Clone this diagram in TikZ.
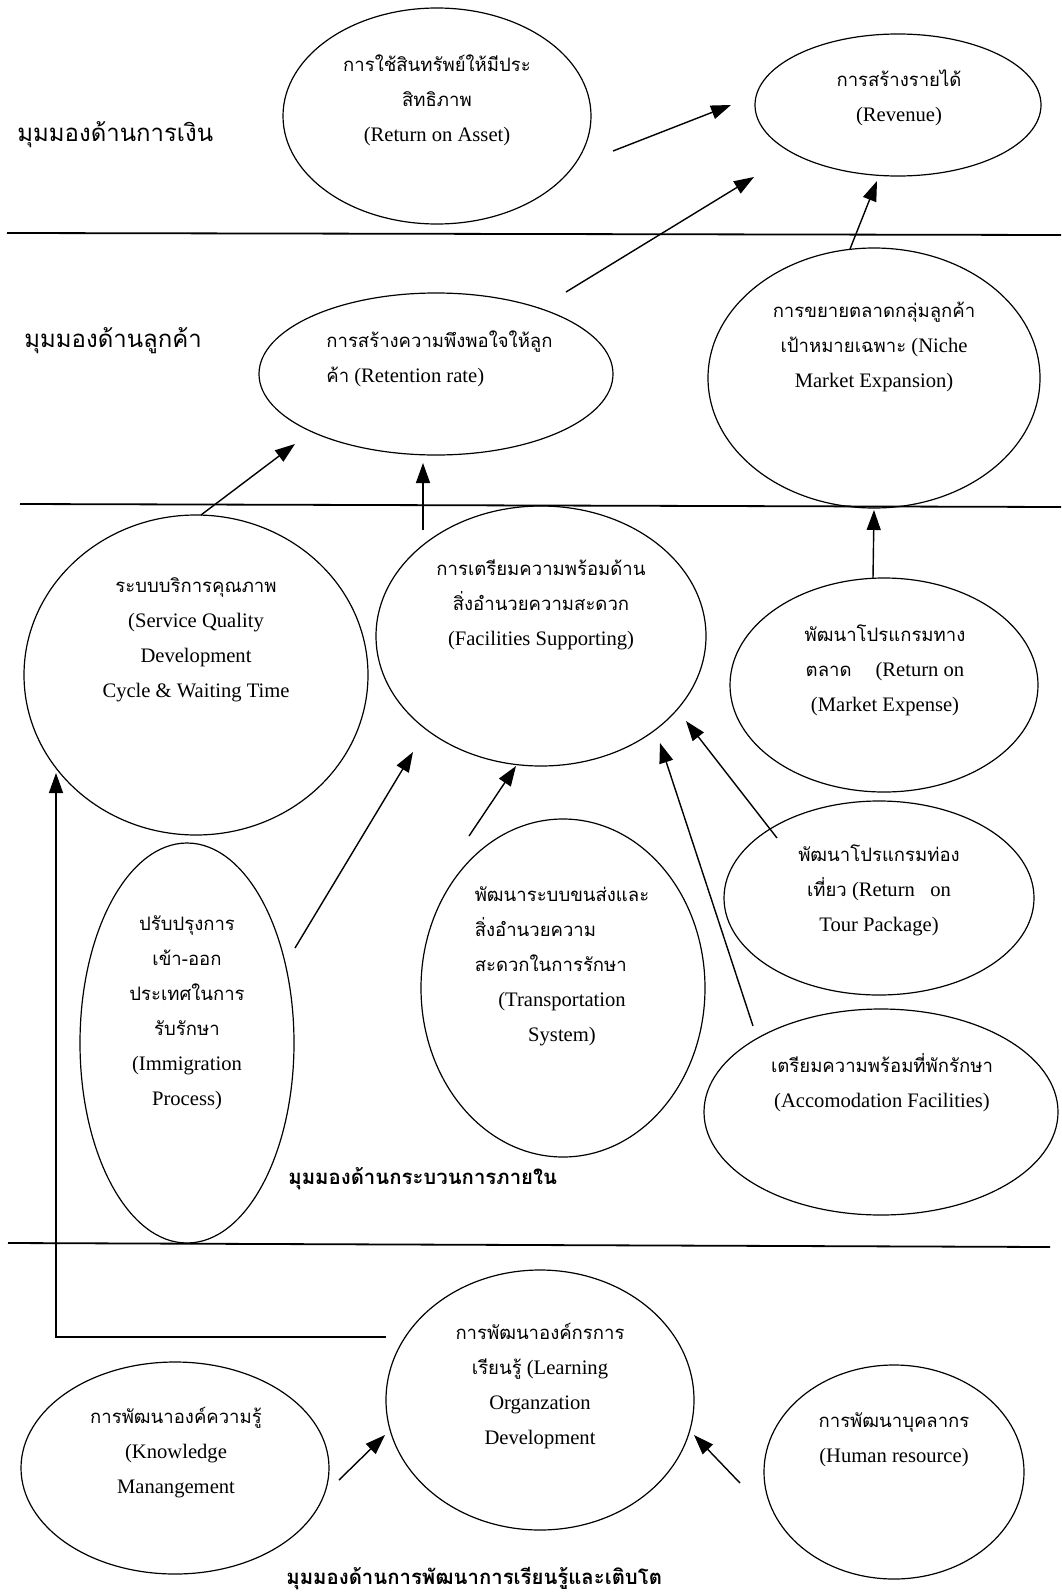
\documentclass[tikz,border=0pt]{standalone}
\usepackage{fontspec}
\setmainfont{Liberation Serif}
\newfontfamily\thai[Script=Thai,Scale=0.9]{Loma}
\usetikzlibrary{shapes.geometric,arrows.meta}
\newcommand{\tht}[1]{{\thai #1}}
\begin{document}
\begin{tikzpicture}[x=0.5pt,y=-0.5pt,
  oval/.style={draw,ellipse,line width=0.6pt,inner sep=0pt},
  txt/.style={align=center,inner sep=0pt,font=\fontsize{10.3}{17.5}\selectfont},
  lbl/.style={anchor=west,inner sep=0pt,font=\thai\fontsize{13.3}{16}\selectfont},
  lblb/.style={anchor=west,inner sep=0pt,font=\thai\bfseries\fontsize{11.3}{14}\selectfont},
  sep/.style={line width=0.9pt},
  arr/.style={line width=0.7pt,-{Triangle[length=10pt,width=7pt]}}]
\useasboundingbox (0,0) rectangle (1061,1595);

% separators
\coordinate (s1a) at (7,233);   \coordinate (s1b) at (1061,235);
\coordinate (s2a) at (20,504);  \coordinate (s2b) at (1061,507);
\coordinate (s3a) at (8,1243);  \coordinate (s3b) at (1050,1247);
\draw[sep] (s1a) -- (s1b);
\draw[sep] (s2a) -- (s2b);
\draw[sep] (s3a) -- (s3b);

% ellipses (1px = 0.5pt)
\node[oval,minimum width=308pt/2,minimum height=216pt/2] (roa) at (437,116) {};
\node[oval,minimum width=286pt/2,minimum height=142pt/2] (rev) at (898,105) {};
\node[oval,minimum width=354pt/2,minimum height=162pt/2] (ret) at (436,374) {};
\node[oval,minimum width=332pt/2,minimum height=260pt/2] (niche) at (874,378) {};
\node[oval,minimum width=344pt/2,minimum height=320pt/2] (sq) at (196,675) {};
\node[oval,minimum width=330pt/2,minimum height=260pt/2] (fac) at (541,636) {};
\node[oval,minimum width=308pt/2,minimum height=214pt/2] (me) at (884,685) {};
\node[oval,minimum width=310pt/2,minimum height=194pt/2] (tour) at (879,898) {};
\node[oval,minimum width=214pt/2,minimum height=400pt/2] (imm) at (187,1043) {};
\node[oval,minimum width=284pt/2,minimum height=338pt/2] (trans) at (563,988) {};
\node[oval,minimum width=354pt/2,minimum height=206pt/2] (acc) at (881,1112) {};
\node[oval,minimum width=308pt/2,minimum height=212pt/2] (km) at (175,1468) {};
\node[oval,minimum width=308pt/2,minimum height=260pt/2] (lo) at (540,1400) {};
\node[oval,minimum width=260pt/2,minimum height=214pt/2] (hr) at (894,1472) {};

% texts
\node[txt] (roaT) at (437,100) {\tht{การใช้สินทรัพย์ให้มีประ}\\\tht{สิทธิภาพ}\\(Return on Asset)};
\node[txt] (revT) at (899,98) {\tht{การสร้างรายได้}\\(Revenue)};
\node[txt,align=left,anchor=west] (retT) at (326,359) {\tht{การสร้างความพึงพอใจให้ลูก}\\\tht{ค้า} (Retention rate)};
\node[txt] (nicheT) at (874,347) {\tht{การขยายตลาดกลุ่มลูกค้า}\\\tht{เป้าหมายเฉพาะ} (Niche\\Market Expansion)};
\node[txt] (sqT) at (196,640) {\tht{ระบบบริการคุณภาพ}\\(Service Quality\\Development\\Cycle \& Waiting Time};
\node[txt] (facT) at (541,605) {\tht{การเตรียมความพร้อมด้าน}\\\tht{สิ่งอำนวยความสะดวก}\\(Facilities Supporting)};
\node[txt] (meT) at (885,670) {\tht{พัฒนาโปรแกรมทาง}\\\tht{ตลาด}\hspace{12pt}(Return on\\(Market Expense)};
\node[txt] (tourT) at (879,890) {\tht{พัฒนาโปรแกรมท่อง}\\\tht{เที่ยว} (Return\ \ \ on\\Tour Package)};
\node[txt] (immT) at (187,1013) {\tht{ปรับปรุงการ}\\\tht{เข้า-ออก}\\\tht{ประเทศในการ}\\\tht{รับรักษา}\\(Immigration\\Process)};
\node[txt] (transT) at (562,964) {\begin{tabular}{@{}l@{}}\tht{พัฒนาระบบขนส่งและ}\\\tht{สิ่งอำนวยความ}\\\tht{สะดวกในการรักษา}\\\multicolumn{1}{@{}c@{}}{(Transportation}\\\multicolumn{1}{@{}c@{}}{System)}\end{tabular}};
\node[txt] (accT) at (882,1083) {\tht{เตรียมความพร้อมที่พักรักษา}\\(Accomodation Facilities)};
\node[txt] (kmT) at (176,1453) {\tht{การพัฒนาองค์ความรู้}\\(Knowledge\\Manangement};
\node[txt] (loT) at (540,1386) {\tht{การพัฒนาองค์กรการ}\\\tht{เรียนรู้} (Learning\\Organzation\\Development};
\node[txt] (hrT) at (894,1440) {\tht{การพัฒนาบุคลากร}\\(Human resource)};

% perspective labels
\node[lbl] (l1) at (17,135) {มุมมองด้านการเงิน};
\node[lbl] (l2) at (24,341) {มุมมองด้านลูกค้า};
\node[lblb] (l3) at (288,1179) {มุมมองด้านกระบวนการภายใน};
\node[lblb] (l4) at (286,1579) {มุมมองด้านการพัฒนาการเรียนรู้และเติบโต};

% arrow end points
\coordinate (a1s) at (613,151);  \coordinate (a1e) at (731,105);
\coordinate (a2s) at (566,292);  \coordinate (a2e) at (754,177);
\coordinate (a3s) at (850,249);  \coordinate (a3e) at (877,181);
\coordinate (a4s) at (201,515);  \coordinate (a4e) at (295,444);
\coordinate (a5s) at (423,530);  \coordinate (a5e) at (423,463);
\coordinate (a6s) at (873,578);  \coordinate (a6e) at (874,510);
\coordinate (a7s) at (295,948);  \coordinate (a7e) at (413,752);
\coordinate (a8s) at (469,836);  \coordinate (a8e) at (516,766);
\coordinate (a9s) at (777,838);  \coordinate (a9e) at (686,721);
\coordinate (a10s) at (753,1026); \coordinate (a10e) at (660,743);
\coordinate (a11s) at (386,1337); \coordinate (a11m) at (56,1337); \coordinate (a11e) at (56,773);
\coordinate (a12s) at (339,1480); \coordinate (a12e) at (385,1435);
\coordinate (a13s) at (740,1483); \coordinate (a13e) at (694,1435);

\draw[arr] (a1s) -- (a1e);
\draw[arr] (a2s) -- (a2e);
\draw[arr] (a3s) -- (a3e);
\draw[arr] (a4s) -- (a4e);
\draw[arr] (a5s) -- (a5e);
\draw[arr] (a6s) -- (a6e);
\draw[arr] (a7s) -- (a7e);
\draw[arr] (a8s) -- (a8e);
\draw[arr] (a9s) -- (a9e);
\draw[arr] (a10s) -- (a10e);
\draw[arr] (a11s) -- (a11m) -- (a11e);
\draw[arr] (a12s) -- (a12e);
\draw[arr] (a13s) -- (a13e);
\end{tikzpicture}
\end{document}
